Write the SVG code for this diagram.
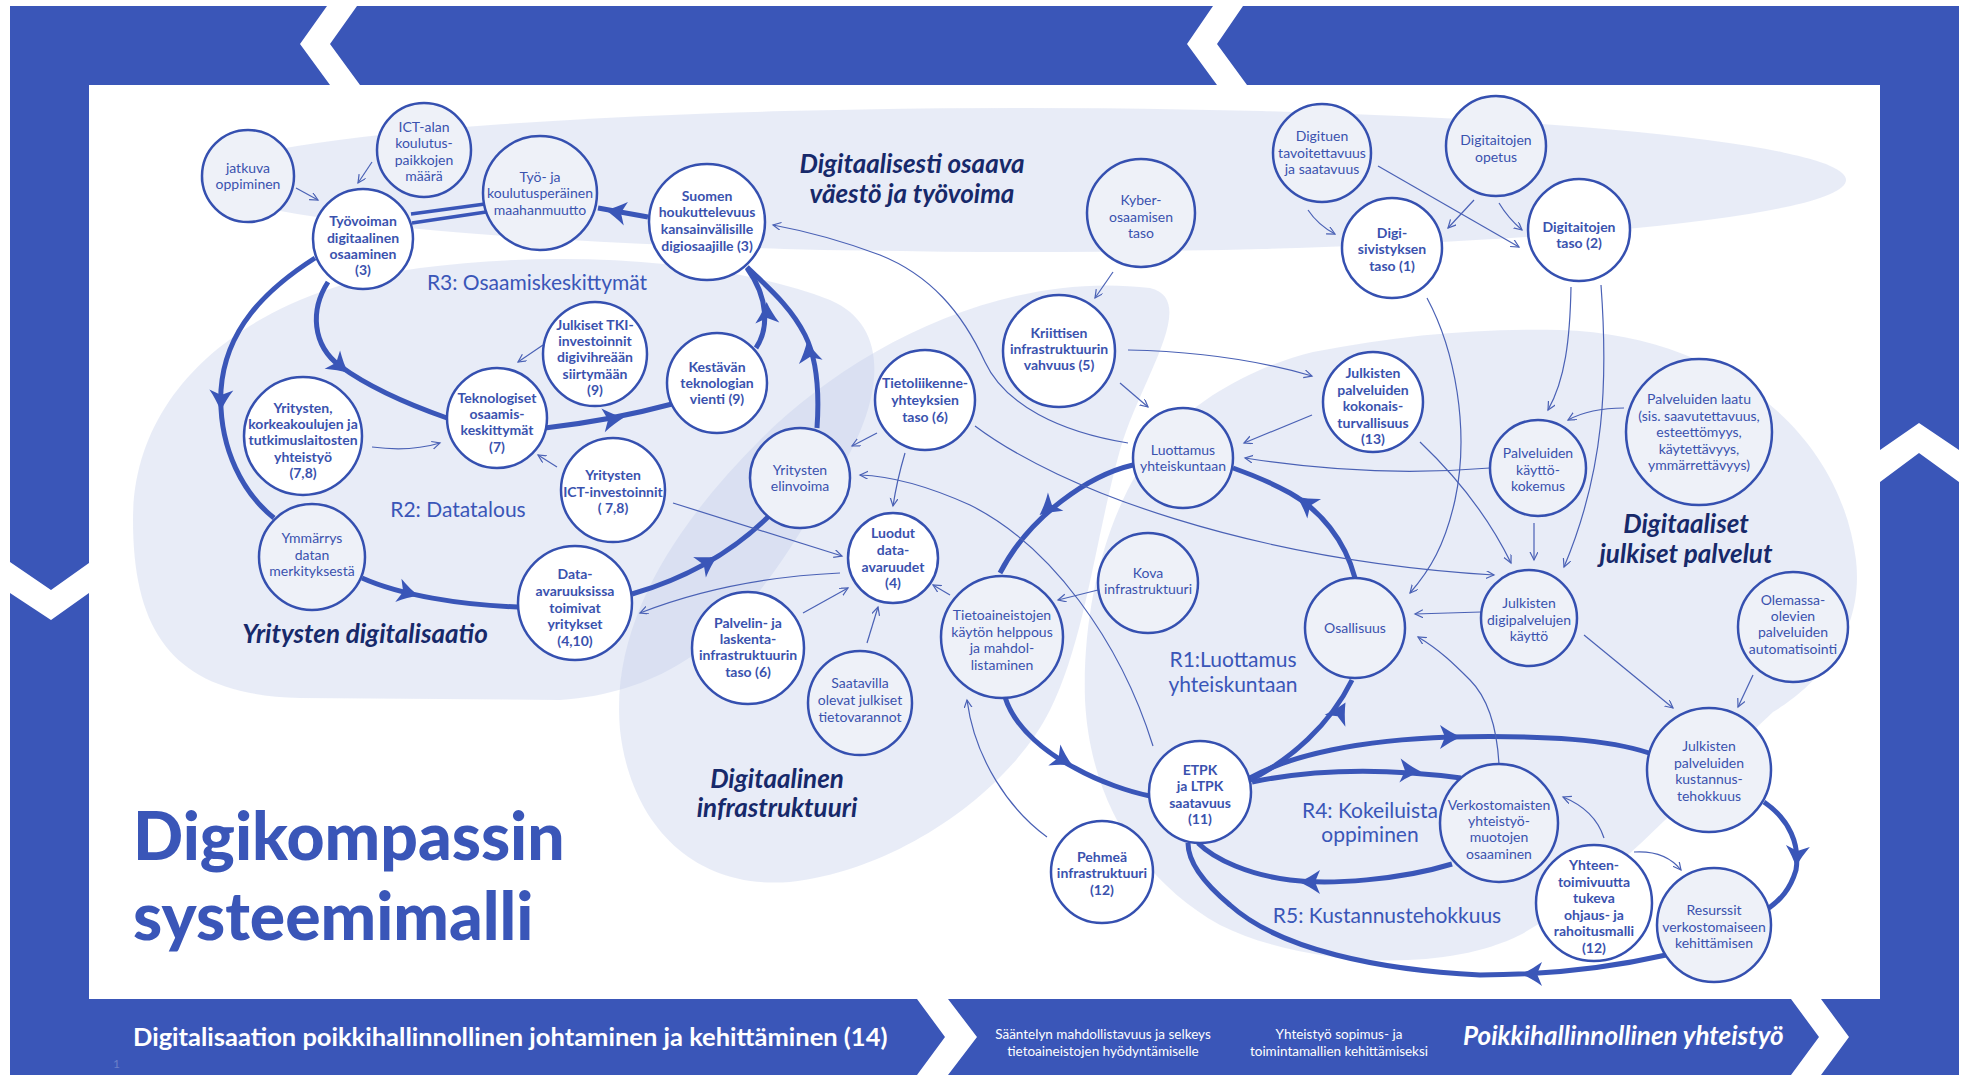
<svg xmlns="http://www.w3.org/2000/svg" width="1966" height="1075" viewBox="0 0 1966 1075">
<defs>
<style>
.bg{fill:#c2cde9;fill-opacity:0.38}
.nd circle{stroke:#3550b0;stroke-width:2.5}
.b circle{fill:#ffffff}
.r circle{fill:#eef1f8}
.nd text{font-family:Lato,"Liberation Sans",sans-serif;font-size:14px;fill:#3a52ae;text-anchor:middle}
.b text{font-weight:700}
.loop{fill:none;stroke:#3a56b8;stroke-width:5}
.thin{fill:none;stroke:#4a61b5;stroke-width:1.2;marker-end:url(#ah)}
.reg{font-family:Lato,"Liberation Sans",sans-serif;font-style:italic;font-weight:700;font-size:26px;fill:#17296a;text-anchor:middle}
.ll{font-family:Lato,"Liberation Sans",sans-serif;font-size:21px;fill:#3a56b8}
.band{font-family:Lato,"Liberation Sans",sans-serif;fill:#ffffff}
</style>
<marker id="ah" markerWidth="10" markerHeight="10" refX="8" refY="4" orient="auto" markerUnits="userSpaceOnUse">
<path d="M0,0 L8,4 L0,8" fill="none" stroke="#4a61b5" stroke-width="1.2"/>
</marker>
<path id="big" d="M11,0 C4,-3 -3,-7 -10,-12 L-5,0 L-10,12 C-3,7 4,3 11,0 Z" fill="#3a56b8"/>
</defs>
<rect x="0" y="0" width="1966" height="1075" fill="#ffffff"/>
<g id="frame">
<path d="M10,6 H1959 V1075 H10 Z M89,85 V999 H1880 V85 Z" fill="#3a56b8" fill-rule="evenodd"/>
<polygon points="327,6 357,6 330,44 360,85 330,85 300,44" fill="#ffffff"/>
<polygon points="1213,6 1243,6 1217,44 1247,85 1217,85 1187,44" fill="#ffffff"/>
<polygon points="10,562 51,590 89,563 89,593 51,620 10,593" fill="#ffffff"/>
<polygon points="1880,450 1919,423 1959,450 1959,482 1919,453 1880,482" fill="#ffffff"/>
<polygon points="917,999 948,999 977,1037 948,1075 917,1075 945,1037" fill="#ffffff"/>
<polygon points="1791,999 1821,999 1849,1037 1821,1075 1791,1075 1819,1037" fill="#ffffff"/>
</g>
<g id="regions">
<ellipse class="bg" cx="1023" cy="180" rx="823" ry="72"/>
<path class="bg" d="M133,520 C133,380 260,290 420,268 C560,250 720,258 830,300 C900,330 880,420 820,500 C760,600 700,690 560,700 L300,698 C180,695 133,640 133,520 Z"/>
<path class="bg" d="M1150,288 C1200,300 1140,380 1120,450 C1095,540 1085,640 1050,710 C1010,790 900,870 790,882 C690,890 630,820 620,730 C610,620 680,520 760,440 C850,350 1000,270 1150,288 Z"/>
<path class="bg" d="M1313,352 C1400,335 1480,328 1560,330 C1720,335 1840,430 1856,560 C1865,640 1810,690 1773,712 C1710,770 1620,880 1520,935 C1440,975 1300,965 1220,925 C1140,880 1090,800 1085,700 C1082,600 1110,500 1160,440 C1200,395 1260,365 1313,352 Z"/>
</g>
<g id="connectors">
<path class="loop" d="M315,258 C265,290 225,330 221,390 C218,450 245,495 274,518"/>
<path class="loop" d="M362,578 C400,595 460,605 518,607"/>
<path class="loop" d="M632,594 C680,580 730,555 770,515"/>
<path class="loop" d="M817,428 C820,385 815,355 805,335 C790,305 765,285 747,267"/>
<path class="loop" d="M648,217 L598,208"/>
<path class="loop" style="stroke-width:3.5" d="M485,204 L411,214"/>
<path class="loop" style="stroke-width:3.5" d="M486,212 L412,223"/>
<path class="loop" d="M328,282 C310,310 312,345 340,366 C370,388 410,405 447,418"/>
<path class="loop" d="M545,428 C580,424 620,418 672,404"/>
<path class="loop" d="M756,348 C768,330 770,300 747,268"/>
<path class="loop" d="M1133,465 C1090,475 1030,515 1000,573"/>
<path class="loop" d="M1005,697 C1015,730 1050,755 1075,768 C1100,782 1130,792 1150,796"/>
<path class="loop" d="M1250,780 C1290,760 1330,725 1352,680"/>
<path class="loop" d="M1355,578 C1345,540 1320,510 1290,493 C1270,482 1250,474 1233,468"/>
<path class="loop" d="M1252,782 C1300,772 1370,766 1461,778"/>
<path class="loop" d="M1250,778 C1290,755 1360,740 1450,737 C1550,735 1610,740 1649,753"/>
<path class="loop" d="M1452,864 C1400,880 1330,885 1290,880 C1250,875 1215,860 1198,843"/>
<path class="loop" d="M1764,802 C1790,820 1800,845 1796,870 C1790,890 1780,900 1769,908"/>
<path class="loop" d="M1666,955 C1600,970 1540,975 1480,975 C1380,970 1280,950 1230,905 C1200,880 1188,860 1188,843"/>
<use href="#big" transform="translate(221,400) rotate(92)"/>
<use href="#big" transform="translate(408,593) rotate(15)"/>
<use href="#big" transform="translate(708,562) rotate(-32)"/>
<use href="#big" transform="translate(809,352) rotate(-100)"/>
<use href="#big" transform="translate(616,212) rotate(190)"/>
<use href="#big" transform="translate(340,366) rotate(40)"/>
<use href="#big" transform="translate(613,419) rotate(-8)"/>
<use href="#big" transform="translate(767,313) rotate(-92)"/>
<use href="#big" transform="translate(1048,508) rotate(140)"/>
<use href="#big" transform="translate(1063,760) rotate(30)"/>
<use href="#big" transform="translate(1340,712) rotate(-60)"/>
<use href="#big" transform="translate(1306,503) rotate(-145)"/>
<use href="#big" transform="translate(1410,771) rotate(3)"/>
<use href="#big" transform="translate(1450,737) rotate(0)"/>
<use href="#big" transform="translate(1310,882) rotate(180)"/>
<use href="#big" transform="translate(1797,856) rotate(95)"/>
<use href="#big" transform="translate(1532,974) rotate(180)"/>
<path class="thin" d="M296,188 L318,200"/>
<path class="thin" d="M372,162 L358,183"/>
<path class="thin" d="M372,447 Q410,452 440,443"/>
<path class="thin" d="M543,345 L518,362"/>
<path class="thin" d="M557,467 L538,455"/>
<path class="thin" d="M673,503 L842,556"/>
<path class="thin" d="M840,573 Q730,578 640,613"/>
<path class="thin" d="M803,613 L848,588"/>
<path class="thin" d="M867,643 L878,607"/>
<path class="thin" d="M950,595 L933,585"/>
<path class="thin" d="M877,433 L852,446"/>
<path class="thin" d="M905,453 Q897,480 893,506"/>
<path class="thin" d="M1153,746 C1120,640 1050,545 970,505 C930,487 890,476 860,475"/>
<path class="thin" d="M1128,443 C1060,432 1005,405 985,362 C962,312 930,275 880,255 C840,240 800,230 773,225"/>
<path class="thin" d="M1128,350 Q1230,352 1312,376"/>
<path class="thin" d="M1120,383 L1148,407"/>
<path class="thin" d="M1312,415 L1244,443"/>
<path class="thin" d="M1490,468 Q1370,478 1245,458"/>
<path class="thin" d="M975,426 C1060,490 1250,560 1494,575"/>
<path class="thin" d="M1420,442 C1460,480 1490,520 1511,563"/>
<path class="thin" d="M1427,298 C1455,350 1470,430 1455,500 C1445,545 1430,570 1410,593"/>
<path class="thin" d="M1481,612 L1415,614"/>
<path class="thin" d="M1499,764 C1497,730 1490,700 1470,680 C1455,665 1440,650 1418,637"/>
<path class="thin" d="M1098,590 L1058,600"/>
<path class="thin" d="M1113,272 L1095,298"/>
<path class="thin" d="M1308,210 Q1318,225 1335,234"/>
<path class="thin" d="M1378,166 L1519,247"/>
<path class="thin" d="M1474,200 L1448,228"/>
<path class="thin" d="M1499,203 Q1508,218 1522,230"/>
<path class="thin" d="M1571,287 C1570,340 1565,380 1548,410"/>
<path class="thin" d="M1601,285 C1608,380 1605,470 1564,567"/>
<path class="thin" d="M1624,408 Q1590,408 1568,420"/>
<path class="thin" d="M1534,523 L1534,560"/>
<path class="thin" d="M1584,635 L1673,708"/>
<path class="thin" d="M1753,675 L1738,707"/>
<path class="thin" d="M1604,838 Q1595,810 1563,797"/>
<path class="thin" d="M1634,852 Q1665,850 1681,870"/>
<path class="thin" d="M1047,837 C1010,810 975,760 967,700"/>
</g>
<g id="n-jatkuva" class="nd r"><circle cx="248" cy="176" r="46"/><text><tspan x="248" y="173">jatkuva</tspan><tspan x="248" y="189">oppiminen</tspan></text></g>
<g id="n-ict" class="nd r"><circle cx="424" cy="150" r="47"/><text><tspan x="424" y="132">ICT-alan</tspan><tspan x="424" y="148">koulutus-</tspan><tspan x="424" y="165">paikkojen</tspan><tspan x="424" y="181">määrä</tspan></text></g>
<g id="n-tyovoiman" class="nd b"><circle cx="363" cy="239" r="50"/><text><tspan x="363" y="226">Työvoiman</tspan><tspan x="363" y="243">digitaalinen</tspan><tspan x="363" y="259">osaaminen</tspan><tspan x="363" y="275">(3)</tspan></text></g>
<g id="n-tyoja" class="nd r"><circle cx="540" cy="193" r="57"/><text><tspan x="540" y="182">Työ- ja</tspan><tspan x="540" y="198">koulutusperäinen</tspan><tspan x="540" y="215">maahanmuutto</tspan></text></g>
<g id="n-suomen" class="nd b"><circle cx="707" cy="222" r="58"/><text><tspan x="707" y="201">Suomen</tspan><tspan x="707" y="217">houkuttelevuus</tspan><tspan x="707" y="234">kansainvälisille</tspan><tspan x="707" y="251">digiosaajille (3)</tspan></text></g>
<g id="n-tki" class="nd b"><circle cx="595" cy="354" r="52"/><text><tspan x="595" y="330">Julkiset TKI-</tspan><tspan x="595" y="346">investoinnit</tspan><tspan x="595" y="362">digivihreään</tspan><tspan x="595" y="379">siirtymään</tspan><tspan x="595" y="395">(9)</tspan></text></g>
<g id="n-kestavan" class="nd b"><circle cx="717" cy="383" r="50"/><text><tspan x="717" y="372">Kestävän</tspan><tspan x="717" y="388">teknologian</tspan><tspan x="717" y="404">vienti (9)</tspan></text></g>
<g id="n-tekno" class="nd b"><circle cx="497" cy="418" r="50"/><text><tspan x="497" y="403">Teknologiset</tspan><tspan x="497" y="419">osaamis-</tspan><tspan x="497" y="435">keskittymät</tspan><tspan x="497" y="452">(7)</tspan></text></g>
<g id="n-yrkork" class="nd b"><circle cx="303" cy="436" r="59"/><text><tspan x="303" y="413">Yritysten,</tspan><tspan x="303" y="429">korkeakoulujen ja</tspan><tspan x="303" y="445">tutkimuslaitosten</tspan><tspan x="303" y="462">yhteistyö</tspan><tspan x="303" y="478">(7,8)</tspan></text></g>
<g id="n-ymmarrys" class="nd r"><circle cx="312" cy="557" r="53"/><text><tspan x="312" y="543">Ymmärrys</tspan><tspan x="312" y="560">datan</tspan><tspan x="312" y="576">merkityksestä</tspan></text></g>
<g id="n-yrict" class="nd b"><circle cx="613" cy="490" r="52"/><text><tspan x="613" y="480">Yritysten</tspan><tspan x="613" y="497">ICT-investoinnit</tspan><tspan x="613" y="513">( 7,8)</tspan></text></g>
<g id="n-elinvoima" class="nd r"><circle cx="800" cy="478" r="50"/><text><tspan x="800" y="475">Yritysten</tspan><tspan x="800" y="491">elinvoima</tspan></text></g>
<g id="n-tietoliikenne" class="nd b"><circle cx="925" cy="400" r="50"/><text><tspan x="925" y="388">Tietoliikenne-</tspan><tspan x="925" y="405">yhteyksien</tspan><tspan x="925" y="422">taso  (6)</tspan></text></g>
<g id="n-luodut" class="nd b"><circle cx="893" cy="558" r="45"/><text><tspan x="893" y="538">Luodut</tspan><tspan x="893" y="555">data-</tspan><tspan x="893" y="572">avaruudet</tspan><tspan x="893" y="588">(4)</tspan></text></g>
<g id="n-dataav" class="nd b"><circle cx="575" cy="603" r="57"/><text><tspan x="575" y="579">Data-</tspan><tspan x="575" y="596">avaruuksissa</tspan><tspan x="575" y="613">toimivat</tspan><tspan x="575" y="629">yritykset</tspan><tspan x="575" y="646">(4,10)</tspan></text></g>
<g id="n-palvelin" class="nd b"><circle cx="748" cy="648" r="56"/><text><tspan x="748" y="628">Palvelin- ja</tspan><tspan x="748" y="644">laskenta-</tspan><tspan x="748" y="660">infrastruktuurin</tspan><tspan x="748" y="677">taso (6)</tspan></text></g>
<g id="n-saatavilla" class="nd r"><circle cx="860" cy="703" r="52"/><text><tspan x="860" y="688">Saatavilla</tspan><tspan x="860" y="705">olevat julkiset</tspan><tspan x="860" y="722">tietovarannot</tspan></text></g>
<g id="n-tietoaineistojen" class="nd r"><circle cx="1002" cy="637" r="61"/><text><tspan x="1002" y="620">Tietoaineistojen</tspan><tspan x="1002" y="637">käytön helppous</tspan><tspan x="1002" y="653">ja mahdol-</tspan><tspan x="1002" y="670">listaminen</tspan></text></g>
<g id="n-kova" class="nd r"><circle cx="1148" cy="583" r="50"/><text><tspan x="1148" y="578">Kova</tspan><tspan x="1148" y="594">infrastruktuuri</tspan></text></g>
<g id="n-luottamus" class="nd r"><circle cx="1183" cy="458" r="50"/><text><tspan x="1183" y="455">Luottamus</tspan><tspan x="1183" y="471">yhteiskuntaan</tspan></text></g>
<g id="n-kriittisen" class="nd b"><circle cx="1059" cy="351" r="56"/><text><tspan x="1059" y="338">Kriittisen</tspan><tspan x="1059" y="354">infrastruktuurin</tspan><tspan x="1059" y="370">vahvuus (5)</tspan></text></g>
<g id="n-kyber" class="nd r"><circle cx="1141" cy="213" r="54"/><text><tspan x="1141" y="205">Kyber-</tspan><tspan x="1141" y="222">osaamisen</tspan><tspan x="1141" y="238">taso</tspan></text></g>
<g id="n-kokonais" class="nd b"><circle cx="1373" cy="402" r="50"/><text><tspan x="1373" y="378">Julkisten</tspan><tspan x="1373" y="395">palveluiden</tspan><tspan x="1373" y="411">kokonais-</tspan><tspan x="1373" y="428">turvallisuus</tspan><tspan x="1373" y="444">(13)</tspan></text></g>
<g id="n-osallisuus" class="nd r"><circle cx="1355" cy="628" r="50"/><text><tspan x="1355" y="633">Osallisuus</tspan></text></g>
<g id="n-digituen" class="nd r"><circle cx="1322" cy="153" r="49"/><text><tspan x="1322" y="141">Digituen</tspan><tspan x="1322" y="158">tavoitettavuus</tspan><tspan x="1322" y="174">ja saatavuus</tspan></text></g>
<g id="n-opetus" class="nd r"><circle cx="1496" cy="146" r="50"/><text><tspan x="1496" y="145">Digitaitojen</tspan><tspan x="1496" y="162">opetus</tspan></text></g>
<g id="n-digisiv" class="nd b"><circle cx="1392" cy="248" r="50"/><text><tspan x="1392" y="238">Digi-</tspan><tspan x="1392" y="254">sivistyksen</tspan><tspan x="1392" y="271">taso (1)</tspan></text></g>
<g id="n-digitaso" class="nd b"><circle cx="1579" cy="230" r="51"/><text><tspan x="1579" y="232">Digitaitojen</tspan><tspan x="1579" y="248">taso (2)</tspan></text></g>
<g id="n-kayttokok" class="nd r"><circle cx="1538" cy="468" r="48"/><text><tspan x="1538" y="458">Palveluiden</tspan><tspan x="1538" y="475">käyttö-</tspan><tspan x="1538" y="491">kokemus</tspan></text></g>
<g id="n-laatu" class="nd r"><circle cx="1699" cy="432" r="73"/><text><tspan x="1699" y="404">Palveluiden laatu</tspan><tspan x="1699" y="421">(sis. saavutettavuus,</tspan><tspan x="1699" y="437">esteettömyys,</tspan><tspan x="1699" y="454">käytettävyys,</tspan><tspan x="1699" y="470">ymmärrettävyys)</tspan></text></g>
<g id="n-digipalv" class="nd r"><circle cx="1529" cy="618" r="48"/><text><tspan x="1529" y="608">Julkisten</tspan><tspan x="1529" y="625">digipalvelujen</tspan><tspan x="1529" y="641">käyttö</tspan></text></g>
<g id="n-olemassa" class="nd r"><circle cx="1793" cy="627" r="55"/><text><tspan x="1793" y="605">Olemassa-</tspan><tspan x="1793" y="621">olevien</tspan><tspan x="1793" y="637">palveluiden</tspan><tspan x="1793" y="654">automatisointi</tspan></text></g>
<g id="n-kustannus" class="nd r"><circle cx="1709" cy="770" r="62"/><text><tspan x="1709" y="751">Julkisten</tspan><tspan x="1709" y="768">palveluiden</tspan><tspan x="1709" y="784">kustannus-</tspan><tspan x="1709" y="801">tehokkuus</tspan></text></g>
<g id="n-verkosto" class="nd r"><circle cx="1499" cy="823" r="59"/><text><tspan x="1499" y="810">Verkostomaisten</tspan><tspan x="1499" y="826">yhteistyö-</tspan><tspan x="1499" y="842">muotojen</tspan><tspan x="1499" y="859">osaaminen</tspan></text></g>
<g id="n-yhteen" class="nd b"><circle cx="1594" cy="903" r="58"/><text><tspan x="1594" y="870">Yhteen-</tspan><tspan x="1594" y="887">toimivuutta</tspan><tspan x="1594" y="903">tukeva</tspan><tspan x="1594" y="920">ohjaus- ja</tspan><tspan x="1594" y="936">rahoitusmalli</tspan><tspan x="1594" y="953">(12)</tspan></text></g>
<g id="n-resurssit" class="nd r"><circle cx="1714" cy="925" r="57"/><text><tspan x="1714" y="915">Resurssit</tspan><tspan x="1714" y="932">verkostomaiseen</tspan><tspan x="1714" y="948">kehittämisen</tspan></text></g>
<g id="n-etpk" class="nd b"><circle cx="1200" cy="792" r="51"/><text><tspan x="1200" y="775">ETPK</tspan><tspan x="1200" y="791">ja LTPK</tspan><tspan x="1200" y="808">saatavuus</tspan><tspan x="1200" y="824">(11)</tspan></text></g>
<g id="n-pehmea" class="nd b"><circle cx="1102" cy="872" r="51"/><text><tspan x="1102" y="862">Pehmeä</tspan><tspan x="1102" y="878">infrastruktuuri</tspan><tspan x="1102" y="895">(12)</tspan></text></g>
<g id="labels">
<text class="reg"><tspan x="912" y="173">Digitaalisesti osaava</tspan><tspan x="912" y="203">väestö ja työvoima</tspan></text>
<text class="reg" x="365" y="643">Yritysten digitalisaatio</text>
<text class="reg"><tspan x="777" y="788">Digitaalinen</tspan><tspan x="777" y="817">infrastruktuuri</tspan></text>
<text class="reg"><tspan x="1686" y="533">Digitaaliset</tspan><tspan x="1686" y="563">julkiset palvelut</tspan></text>
<text class="ll" x="537" y="290" text-anchor="middle">R3: Osaamiskeskittymät</text>
<text class="ll" x="458" y="517" text-anchor="middle">R2: Datatalous</text>
<text class="ll" text-anchor="middle"><tspan x="1233" y="667">R1:Luottamus</tspan><tspan x="1233" y="692">yhteiskuntaan</tspan></text>
<text class="ll" text-anchor="middle"><tspan x="1370" y="818">R4: Kokeiluista</tspan><tspan x="1370" y="842">oppiminen</tspan></text>
<text class="ll" x="1387" y="923" text-anchor="middle">R5: Kustannustehokkuus</text>
<text font-family="Lato,'Liberation Sans',sans-serif" font-weight="900" font-size="66" fill="#3a56b8"><tspan x="133" y="860">Digikompassin</tspan><tspan x="133" y="940">systeemimalli</tspan></text>
<text class="band" x="133" y="1046" font-size="25.5" font-weight="700">Digitalisaation poikkihallinnollinen johtaminen ja kehittäminen (14)</text>
<text class="band" font-size="13.5" text-anchor="middle"><tspan x="1103" y="1039">Sääntelyn mahdollistavuus ja selkeys</tspan><tspan x="1103" y="1056">tietoaineistojen hyödyntämiselle</tspan></text>
<text class="band" font-size="13.5" text-anchor="middle"><tspan x="1339" y="1039">Yhteistyö sopimus- ja</tspan><tspan x="1339" y="1056">toimintamallien kehittämiseksi</tspan></text>
<text class="band" x="1463" y="1045" font-size="26" font-weight="700" font-style="italic">Poikkihallinnollinen yhteistyö</text>
<text x="113" y="1068" font-family="Lato,'Liberation Sans',sans-serif" font-size="12" fill="#6a7fc8">1</text>
</g>
</svg>
